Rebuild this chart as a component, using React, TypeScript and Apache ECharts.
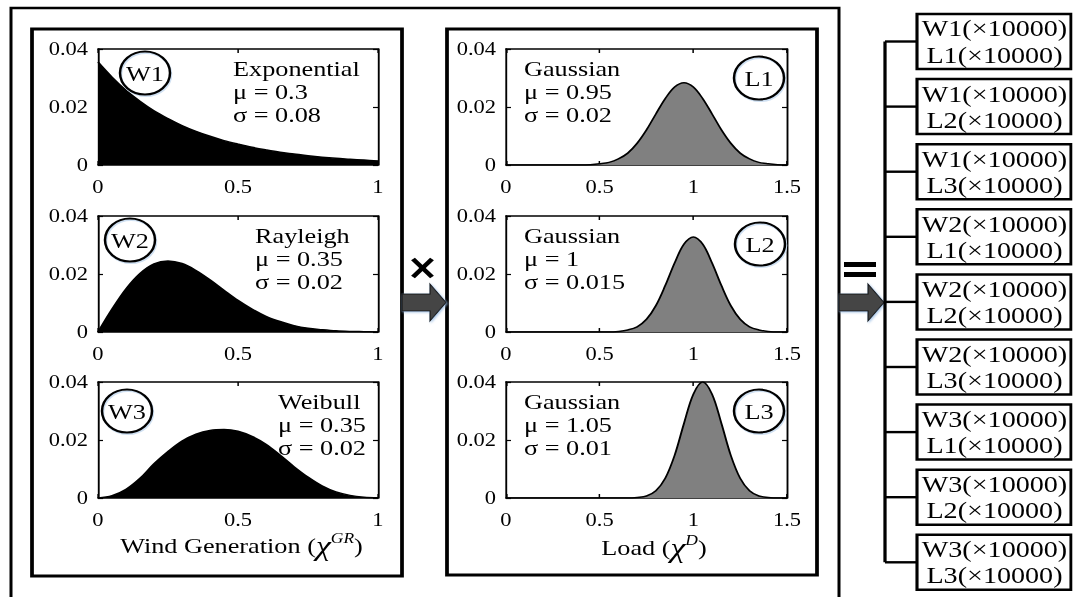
import React, { useEffect, useRef } from 'react';
import * as echarts from 'echarts';

// ---------- data ----------
const W_X = [0, 0.05, 0.1, 0.15, 0.2, 0.25, 0.3, 0.35, 0.4, 0.45, 0.5, 0.55, 0.6, 0.65, 0.7, 0.75, 0.8, 0.85, 0.9, 0.95, 1];
const L_X = [0, 0.05, 0.1, 0.15, 0.2, 0.25, 0.3, 0.35, 0.4, 0.45, 0.5, 0.55, 0.6, 0.65, 0.7, 0.75, 0.8, 0.85, 0.9, 0.95, 1, 1.05, 1.1, 1.15, 1.2, 1.25, 1.3, 1.35, 1.4, 1.45, 1.5];

const W1 = [0.0355, 0.0303, 0.0258, 0.022, 0.0187, 0.016, 0.0136, 0.0116, 0.0099, 0.0084, 0.0072, 0.0061, 0.0052, 0.0044, 0.0038, 0.0032, 0.0027, 0.0023, 0.002, 0.0017, 0.0014];
const W2 = [0, 0.0079, 0.0149, 0.0202, 0.0235, 0.0245, 0.0236, 0.0212, 0.018, 0.0144, 0.0109, 0.0079, 0.0054, 0.0036, 0.0022, 0.0013, 0.0008, 0.0004, 0.0002, 0.0001, 0];
const W3 = [0, 0.0008, 0.003, 0.0068, 0.0118, 0.016, 0.0196, 0.022, 0.0233, 0.0236, 0.023, 0.0212, 0.0185, 0.0148, 0.0108, 0.0072, 0.0042, 0.0021, 0.0009, 0.0003, 0.0001];

const L1 = [0, 0, 0, 0, 0, 0, 0, 0, 0, 0.0001, 0.0004, 0.0009, 0.0021, 0.0041, 0.0075, 0.0121, 0.0176, 0.0229, 0.0269, 0.0284, 0.0269, 0.0229, 0.0176, 0.0121, 0.0075, 0.0041, 0.0021, 0.0009, 0.0004, 0.0001, 0];
const L2 = [0, 0, 0, 0, 0, 0, 0, 0, 0, 0, 0, 0, 0.0002, 0.0007, 0.0018, 0.0044, 0.0091, 0.016, 0.0238, 0.0303, 0.0328, 0.0303, 0.0238, 0.016, 0.0091, 0.0044, 0.0018, 0.0007, 0.0002, 0, 0];
const L3 = [0, 0, 0, 0, 0, 0, 0, 0, 0, 0, 0, 0, 0, 0, 0.0002, 0.0007, 0.0025, 0.0068, 0.0147, 0.0257, 0.0358, 0.04, 0.0358, 0.0257, 0.0147, 0.0068, 0.0025, 0.0007, 0.0002, 0, 0];

const W_NAMES = ['W1', 'W2', 'W3'];
const L_NAMES = ['L1', 'L2', 'L3'];
const W_DIST = ['Exponential', 'Rayleigh', 'Weibull'];
const W_MU = ['0.3', '0.35', '0.35'];
const W_SIGMA = ['0.08', '0.02', '0.02'];
const L_DIST = ['Gaussian', 'Gaussian', 'Gaussian'];
const L_MU = ['0.95', '1', '1.05'];
const L_SIGMA = ['0.02', '0.015', '0.01'];
const W_MAX = 1;
const L_MAX = 1.5;
const X_INTERVAL = 0.5;
const Y_MAX = 0.04;
const Y_INTERVAL = 0.02;
const MULT = '(×10000)';

// ---------- layout (reference pixel coords; x is divided by S) ----------
const S = 1.25; // horizontal stretch of the reference
const FULL_W = 1073;
const FULL_H = 597;
const gx = (v: number) => v / S;
const FONT = "'Liberation Serif', serif";

const ROW_TOPS = [49, 216, 382];
const PLOT_H = 116;
const W_LEFT = 98, W_RIGHT = 378;
const L_LEFT = 506, L_RIGHT = 787;

export default function App() {
  const ref = useRef<HTMLDivElement>(null);

  useEffect(() => {
    if (!ref.current) return;
    const chart = echarts.init(ref.current, undefined, { renderer: 'svg' });

    const grids: any[] = [];
    const xAxes: any[] = [];
    const yAxes: any[] = [];
    const series: any[] = [];

    const curves = [
      { xs: W_X, ys: W1, max: W_MAX, fill: '#000' },
      { xs: W_X, ys: W2, max: W_MAX, fill: '#000' },
      { xs: W_X, ys: W3, max: W_MAX, fill: '#000' },
      { xs: L_X, ys: L1, max: L_MAX, fill: '#808080' },
      { xs: L_X, ys: L2, max: L_MAX, fill: '#808080' },
      { xs: L_X, ys: L3, max: L_MAX, fill: '#808080' },
    ];

    curves.forEach((c, i) => {
      const row = i % 3;
      const isW = i < 3;
      const left = isW ? W_LEFT : L_LEFT;
      const right = isW ? W_RIGHT : L_RIGHT;
      grids.push({
        left: gx(left),
        width: gx(right - left),
        top: ROW_TOPS[row],
        height: PLOT_H,
        containLabel: false,
      });
      const axLine = { show: true, lineStyle: { color: '#000', width: 1.5 } };
      const tick = { show: true, inside: true, length: 4, lineStyle: { color: '#000', width: 1.2 } };
      const lbl = { color: '#000', fontSize: 18, fontFamily: FONT };
      xAxes.push({
        type: 'value', gridIndex: i, min: 0, max: c.max, interval: X_INTERVAL,
        axisLine: { ...axLine, onZero: false }, axisTick: tick, splitLine: { show: false },
        axisLabel: { ...lbl, margin: 13 },
      });
      xAxes.push({
        type: 'value', gridIndex: i, position: 'top', min: 0, max: c.max, interval: X_INTERVAL,
        axisLine: { ...axLine, onZero: false }, axisTick: tick, splitLine: { show: false },
        axisLabel: { show: false },
      });
      yAxes.push({
        type: 'value', gridIndex: i, min: 0, max: Y_MAX, interval: Y_INTERVAL,
        axisLine: { ...axLine, onZero: false }, axisTick: tick, splitLine: { show: false },
        axisLabel: { ...lbl, margin: 8 },
      });
      yAxes.push({
        type: 'value', gridIndex: i, position: 'right', min: 0, max: Y_MAX, interval: Y_INTERVAL,
        axisLine: { ...axLine, onZero: false }, axisTick: tick, splitLine: { show: false },
        axisLabel: { show: false },
      });
      series.push({
        type: 'line',
        xAxisIndex: 2 * i,
        yAxisIndex: 2 * i,
        data: c.xs.map((x, j) => [x, c.ys[j]]),
        smooth: 0.35,
        symbol: 'none',
        showSymbol: false,
        lineStyle: { color: '#000', width: 1.5 },
        areaStyle: { color: c.fill, opacity: 1 },
        itemStyle: { color: '#000' },
        z: 1,
      });
    });

    const g: any[] = [];
    const txt = (x: number, y: number, text: string, size: number, align = 'left', extra: any = {}) => ({
      type: 'text', z: 100,
      style: {
        x: gx(x), y, text, fill: '#000', fontSize: size, fontFamily: FONT,
        align, textAlign: align, verticalAlign: 'middle', textVerticalAlign: 'middle', ...extra,
      },
    });
    const rect = (x: number, y: number, w: number, h: number, lw: number, fill = 'none') => ({
      type: 'rect', z: 100,
      shape: { x: gx(x), y, width: gx(w), height: h },
      style: { fill, stroke: fill === 'none' ? '#000' : null, lineWidth: lw },
    });
    const line = (x1: number, y1: number, x2: number, y2: number, lw: number) => ({
      type: 'line', z: 100,
      shape: { x1: gx(x1), y1, x2: gx(x2), y2 },
      style: { stroke: '#000', lineWidth: lw },
    });

    // outer frame and panels
    g.push(rect(11, 8, 828, 620, 2.4));
    g.push(rect(32, 29, 370, 547, 3));
    g.push(rect(447, 29, 370, 546, 3));

    // annotations
    const LINE_OFF = [20, 43, 66];
    const W_TEXT_X = [233, 255, 278];
    const L_TEXT_X = 524;
    const W_CIRCLE = [[145, 73], [130, 240], [127, 411]];
    const L_CIRCLE = [[759, 78], [760, 244], [759, 411]];
    for (let r = 0; r < 3; r++) {
      const top = ROW_TOPS[r];
      const wl = [W_DIST[r], 'μ = ' + W_MU[r], 'σ = ' + W_SIGMA[r]];
      const ll = [L_DIST[r], 'μ = ' + L_MU[r], 'σ = ' + L_SIGMA[r]];
      wl.forEach((t, k) => g.push(txt(W_TEXT_X[r], top + LINE_OFF[k], t, 21)));
      ll.forEach((t, k) => g.push(txt(L_TEXT_X, top + LINE_OFF[k], t, 21)));
      [[W_CIRCLE[r], W_NAMES[r]], [L_CIRCLE[r], L_NAMES[r]]].forEach(([c, name]: any) => {
        g.push({
          type: 'ellipse', z: 99,
          shape: { cx: gx(c[0] + 1), cy: c[1] + 1.5, rx: gx(25), ry: 21.5 },
          style: { fill: 'none', stroke: '#cfe0f2', lineWidth: 2 },
        });
        g.push({
          type: 'ellipse', z: 100,
          shape: { cx: gx(c[0]), cy: c[1], rx: gx(25), ry: 21.5 },
          style: { fill: 'none', stroke: '#000', lineWidth: 2 },
        });
        g.push(txt(c[0], c[1] + 1, name, 21, 'center'));
      });
    }

    // axis titles
    const rich = {
      a: { fontSize: 21, fontFamily: FONT, fill: '#000' },
      b: { fontSize: 27, fontFamily: FONT, fontStyle: 'italic', fill: '#000', lineHeight: 30 },
      c: { fontSize: 14, fontFamily: FONT, fontStyle: 'italic', fill: '#000', verticalAlign: 'top' },
    };
    g.push(txt(241.5, 546, '{a|Wind Generation (}{b|χ}{c|GR}{a|)}', 21, 'center', { rich }));
    g.push(txt(654, 548, '{a|Load (}{b|χ}{c|D}{a|)}', 21, 'center', { rich }));

    // operators and arrows
    g.push(line(413, 259, 432, 277, 4));
    g.push(line(432, 259, 413, 277, 4));
    g.push(rect(844, 262, 32, 5, 0, '#000'));
    g.push(rect(844, 272, 32, 5, 0, '#000'));
    const arrow = (x0: number, xh: number, tip: number) => ({
      type: 'polygon', z: 100,
      shape: {
        points: [
          [x0, 294], [xh, 294], [xh, 284], [tip, 302.5], [xh, 321], [xh, 311], [x0, 311],
        ].map(([x, y]) => [gx(x), y]),
      },
      style: { fill: '#444', stroke: '#1a1a1a', lineWidth: 1, shadowColor: 'rgba(150,185,225,0.8)', shadowBlur: 2, shadowOffsetX: 1, shadowOffsetY: 1 },
    });
    g.push(arrow(402, 430, 446));
    g.push(arrow(839, 868, 884));

    // result boxes and bracket
    const BOX_TOP0 = 14, BOX_STEP = 65.1, BOX_H = 55;
    const combos: string[][] = [];
    W_NAMES.forEach((w) => L_NAMES.forEach((l) => combos.push([w + MULT, l + MULT])));
    const mids = combos.map((_, k) => BOX_TOP0 + k * BOX_STEP + BOX_H / 2);
    g.push(line(885, mids[0], 885, mids[mids.length - 1], 2.6));
    combos.forEach((pair, k) => {
      const top = BOX_TOP0 + k * BOX_STEP;
      g.push(line(885, mids[k], 917, mids[k], 2.4));
      g.push(rect(917, top, 154, BOX_H, 2.5));
      g.push(txt(994.5, top + 15, pair[0], 22.5, 'center'));
      g.push(txt(994.5, top + 41, pair[1], 22.5, 'center'));
    });

    chart.setOption({
      animation: false,
      backgroundColor: '#fff',
      textStyle: { fontFamily: FONT },
      grid: grids,
      xAxis: xAxes,
      yAxis: yAxes,
      series,
      graphic: { elements: g },
    });

    return () => chart.dispose();
  }, []);

  return (
    <div style={{ position: 'absolute', left: 0, top: 0, width: FULL_W, height: FULL_H, overflow: 'hidden', background: '#fff' }}>
      <div
        ref={ref}
        style={{ width: FULL_W / S, height: FULL_H, transform: `scaleX(${S})`, transformOrigin: '0 0' }}
      />
    </div>
  );
}
